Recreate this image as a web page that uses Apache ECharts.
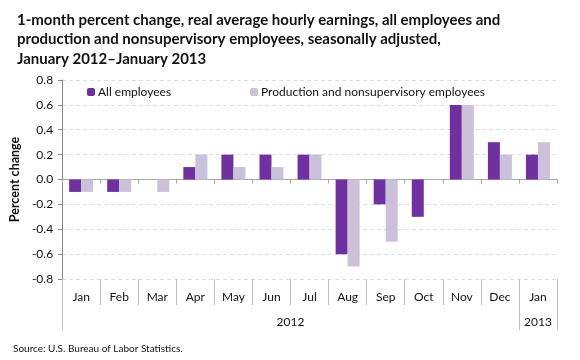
<!DOCTYPE html>
<html><head><meta charset="utf-8">
<script src="https://cdn.jsdelivr.net/npm/echarts@6/dist/echarts.min.js"></script>
<style>html,body{margin:0;padding:0;background:#fff}#c{width:580px;height:360px}</style>
</head><body><div id="c"></div>
<script>
const months = ['Jan','Feb','Mar','Apr','May','Jun','Jul','Aug','Sep','Oct','Nov','Dec','Jan'];
const allEmployees = [-0.1,-0.1,0.0,0.1,0.2,0.2,0.2,-0.6,-0.2,-0.3,0.6,0.3,0.2];
const productionEmployees = [-0.1,-0.1,-0.1,0.2,0.1,0.1,0.2,-0.7,-0.5,0.0,0.6,0.2,0.3];
const yearLabels = ['2012','2013'];
const yearCenters = [6, 12.5];
const yearBounds = [0, 12, 13];
const titleText = '1-month percent change, real average hourly earnings, all employees and\nproduction and nonsupervisory employees, seasonally adjusted,\nJanuary 2012\u2013January 2013';
const FONT = 'Lato';
const chart = echarts.init(document.getElementById('c'));
chart.setOption({
  animation: false,
  textStyle: {fontFamily: FONT},
  title: [{
    text: titleText, left: 12, top: 5,
    textStyle: {fontFamily: FONT, fontWeight: 'bold', fontSize: 15, color: '#111', lineHeight: 19.5}
  }, {
    text: 'Source: U.S. Bureau of Labor Statistics.', left: 8, top: 339,
    textStyle: {fontFamily: FONT, fontWeight: 'normal', fontSize: 10, color: '#111'}
  }],
  legend: [{
    data: ['All employees'], left: 82, top: 81, itemWidth: 8, itemHeight: 8, itemGap: 4,
    textStyle: {fontFamily: FONT, fontSize: 12, color: '#111', padding: [0,0,0,-2]}
  }, {
    data: ['Production and nonsupervisory employees'], left: 245, top: 81, itemWidth: 8, itemHeight: 8,
    textStyle: {fontFamily: FONT, fontSize: 12, color: '#111', padding: [0,0,0,-2]}
  }],
  grid: {left: 62, right: 23, top: 80, bottom: 81, containLabel: false},
  xAxis: [{
    type: 'category', data: months, position: 'bottom',
    axisLine: {show: false, onZero: false},
    axisTick: {show: true, inside: false, length: 26, lineStyle: {color: '#BFBFBF'}},
    axisLabel: {fontFamily: FONT, fontSize: 12, color: '#111', margin: 12}
  }, {
    type: 'category', data: months, position: 'bottom',
    axisLine: {show: true, onZero: true, lineStyle: {color: '#A6A6A6', width: 1}},
    axisTick: {show: true, length: 4, lineStyle: {color: '#A6A6A6'}},
    axisLabel: {show: false}
  }, {
    type: 'value', min: 0, max: 13, position: 'bottom', offset: 26,
    axisLine: {show: false, onZero: false},
    splitLine: {show: false},
    axisTick: {show: true, length: 25, customValues: yearBounds, lineStyle: {color: '#BFBFBF'}},
    axisLabel: {show: true, customValues: yearCenters, margin: 11, fontFamily: FONT, fontSize: 12, color: '#111',
      formatter: v => yearLabels[yearCenters.indexOf(v)]}
  }],
  yAxis: {
    type: 'value', min: -0.8, max: 0.8, interval: 0.2,
    name: 'Percent change', nameLocation: 'middle', nameGap: 40, nameRotate: 90,
    nameTextStyle: {fontFamily: FONT, fontWeight: 'bold', fontSize: 12.5, color: '#111'},
    axisLine: {show: true, onZero: false, lineStyle: {color: '#868686'}},
    axisTick: {show: true, length: 4, lineStyle: {color: '#868686'}},
    axisLabel: {fontFamily: FONT, fontSize: 12, color: '#111', margin: 9, formatter: v => v.toFixed(1)},
    splitLine: {show: true, lineStyle: {color: '#D5DFEA', type: [4, 3]}}
  },
  series: [{
    name: 'All employees', type: 'bar', xAxisIndex: 0, data: allEmployees,
    barWidth: 12, barGap: '0%', itemStyle: {color: '#7030A0'}
  }, {
    name: 'Production and nonsupervisory employees', type: 'bar', xAxisIndex: 0, data: productionEmployees,
    barWidth: 12, barGap: '0%', itemStyle: {color: '#CCC1DA'}
  }]
});
</script></body></html>
